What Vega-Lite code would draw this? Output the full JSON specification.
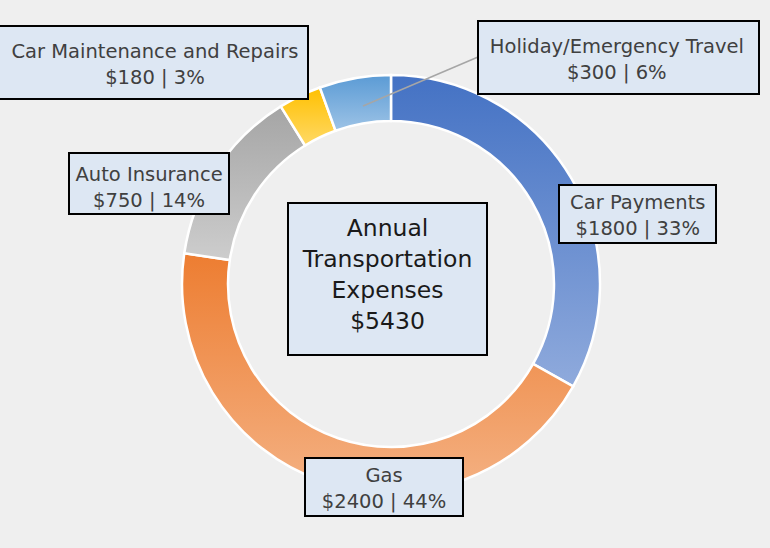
{
  "$schema": "https://vega.github.io/schema/vega-lite/v6.json",
  "autosize": {"type": "none"},
  "width": 758,
  "height": 528,
  "padding": {"left": 12, "top": 20, "right": 0, "bottom": 0},
  "background": "#efefef",
  "config": {"view": {"stroke": null}, "font": "DejaVu Sans"},
  "data": {"values": [
    {"category": "Car Payments", "value": 1800, "share": 33, "order": 1, "label": ["Car Payments", "$1800 | 33%"]},
    {"category": "Gas", "value": 2400, "share": 44, "order": 2, "label": ["Gas", "$2400 | 44%"]},
    {"category": "Auto Insurance", "value": 750, "share": 14, "order": 3, "label": ["Auto Insurance", "$750 | 14%"]},
    {"category": "Car Maintenance and Repairs", "value": 180, "share": 3, "order": 4, "label": ["Car Maintenance and Repairs", "$180 | 3%"]},
    {"category": "Holiday/Emergency Travel", "value": 300, "share": 6, "order": 5, "label": ["Holiday/Emergency Travel", "$300 | 6%"]}
  ]},
  "transform": [{"stack": "value", "groupby": [], "sort": [{"field": "order"}], "as": ["v0", "v1"]}],
  "layer": [
    {
      "transform": [{"filter": "datum.order === 1"}],
      "mark": {"type": "arc", "innerRadius": 163, "outerRadius": 209, "stroke": "#ffffff", "strokeWidth": 2.5,
        "fill": {"gradient": "linear", "x1": 0, "y1": 0, "x2": 0, "y2": 1, "stops": [{"offset": 0, "color": "#4472c4"}, {"offset": 1, "color": "#8faadc"}]}},
      "encoding": {"theta": {"field": "v0", "type": "quantitative"}, "theta2": {"field": "v1"}}
    },
    {
      "transform": [{"filter": "datum.order === 2"}],
      "mark": {"type": "arc", "innerRadius": 163, "outerRadius": 209, "stroke": "#ffffff", "strokeWidth": 2.5,
        "fill": {"gradient": "linear", "x1": 0, "y1": 0, "x2": 0, "y2": 1, "stops": [{"offset": 0, "color": "#ed7d31"}, {"offset": 1, "color": "#f4b183"}]}},
      "encoding": {"theta": {"field": "v0", "type": "quantitative"}, "theta2": {"field": "v1"}}
    },
    {
      "transform": [{"filter": "datum.order === 3"}],
      "mark": {"type": "arc", "innerRadius": 163, "outerRadius": 209, "stroke": "#ffffff", "strokeWidth": 2.5,
        "fill": {"gradient": "linear", "x1": 0, "y1": 0, "x2": 0, "y2": 1, "stops": [{"offset": 0, "color": "#a5a5a5"}, {"offset": 1, "color": "#cdcdcd"}]}},
      "encoding": {"theta": {"field": "v0", "type": "quantitative"}, "theta2": {"field": "v1"}}
    },
    {
      "transform": [{"filter": "datum.order === 4"}],
      "mark": {"type": "arc", "innerRadius": 163, "outerRadius": 209, "stroke": "#ffffff", "strokeWidth": 2.5,
        "fill": {"gradient": "linear", "x1": 0, "y1": 0, "x2": 0, "y2": 1, "stops": [{"offset": 0, "color": "#ffc000"}, {"offset": 1, "color": "#ffd966"}]}},
      "encoding": {"theta": {"field": "v0", "type": "quantitative"}, "theta2": {"field": "v1"}}
    },
    {
      "transform": [{"filter": "datum.order === 5"}],
      "mark": {"type": "arc", "innerRadius": 163, "outerRadius": 209, "stroke": "#ffffff", "strokeWidth": 2.5,
        "fill": {"gradient": "linear", "x1": 0, "y1": 0, "x2": 0, "y2": 1, "stops": [{"offset": 0, "color": "#5b9bd5"}, {"offset": 1, "color": "#9dc3e6"}]}},
      "encoding": {"theta": {"field": "v0", "type": "quantitative"}, "theta2": {"field": "v1"}}
    },
    {
      "transform": [{"filter": "datum.order === 5"}],
      "mark": {"type": "point", "filled": false, "fill": "transparent", "stroke": "#a6a6a6", "strokeWidth": 1.5, "opacity": 1, "size": 4,
        "shape": "M-28,-178L87,-227"},
      "encoding": {}
    },
    {
      "mark": {"type": "point", "filled": true, "fill": "#dde7f3", "stroke": "#000000", "strokeWidth": 2, "opacity": 1, "size": 4},
      "encoding": {
        "shape": {"field": "category", "type": "nominal", "legend": null,
          "scale": {
            "domain": ["Car Payments", "Gas", "Auto Insurance", "Car Maintenance and Repairs", "Holiday/Emergency Travel"],
            "range": ["M168,-99H325V-41H168Z", "M-86,174H72V232H-86Z", "M-322,-131H-162V-70H-322Z", "M-394,-258H-83V-185H-394Z", "M87,-263H368V-190H87Z"]
          }
        }
      }
    },
    {
      "transform": [{"aggregate": [{"op": "sum", "field": "value", "as": "total"}]}],
      "mark": {"type": "point", "filled": true, "fill": "#dde7f3", "stroke": "#000000", "strokeWidth": 2, "opacity": 1, "size": 4,
        "shape": "M-103,-81H96V71H-103Z"},
      "encoding": {}
    },
    {
      "mark": {"type": "text", "radius": 250, "fontSize": 19.5, "fill": "#404040", "lineHeight": 26, "align": "center", "baseline": "middle",
        "dx": {"expr": "datum.order === 1 ? 31 : datum.order === 2 ? 74 : datum.order === 3 ? -33 : datum.order === 4 ? -127 : 269"},
        "dy": {"expr": "datum.order === 1 ? 45 : datum.order === 2 ? -45 : datum.order === 3 ? 28 : datum.order === 4 ? -7 : 9"}},
      "encoding": {
        "theta": {"field": "value", "type": "quantitative", "stack": true},
        "order": {"field": "order"},
        "text": {"field": "label"}
      }
    },
    {
      "transform": [{"aggregate": [{"op": "sum", "field": "value", "as": "total"}]}],
      "mark": {"type": "text", "fontSize": 23.5, "fill": "#1a1a1a", "lineHeight": 31, "align": "center", "baseline": "middle",
        "text": ["Annual", "Transportation", "Expenses"], "dx": -3.5, "dy": -55},
      "encoding": {}
    },
    {
      "transform": [{"aggregate": [{"op": "sum", "field": "value", "as": "total"}]}],
      "mark": {"type": "text", "fontSize": 23.5, "fill": "#1a1a1a", "align": "center", "baseline": "middle", "dx": -3.5, "dy": 38},
      "encoding": {"text": {"field": "total", "type": "quantitative", "format": "$d"}}
    }
  ]
}
